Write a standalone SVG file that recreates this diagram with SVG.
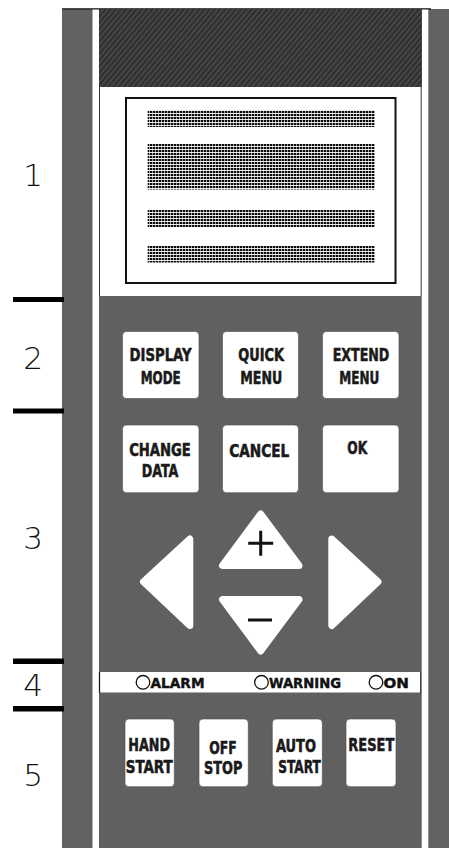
<svg xmlns="http://www.w3.org/2000/svg" width="449" height="848" viewBox="0 0 449 848">
<defs>
<pattern id="hatch" width="4" height="4" patternUnits="userSpaceOnUse" patternTransform="rotate(-50)">
<rect width="4" height="4" fill="#303030"/>
<rect width="4" height="1.3" fill="#505050"/>
</pattern>
<pattern id="dots" width="3" height="3" patternUnits="userSpaceOnUse">
<rect width="3" height="3" fill="#ffffff"/>
<rect x="0" y="0" width="2.4" height="2.1" fill="#0a0a0a"/>
</pattern>
<style>
.strip{fill:#626262}
.panel{fill:#606060}
.key{fill:#ffffff;stroke:#4a4a4a;stroke-width:0.6}
.kt{font-family:"DejaVu Sans Condensed","DejaVu Sans","Liberation Sans",sans-serif;font-weight:bold;font-size:18px;fill:#1a1a1a;stroke:#1a1a1a;stroke-width:0.55;text-anchor:middle}
.led{font-family:"DejaVu Sans Condensed","DejaVu Sans","Liberation Sans",sans-serif;font-weight:bold;font-size:14.5px;fill:#111;stroke:#111;stroke-width:0.4}
.num{font-family:"DejaVu Sans","Liberation Sans",sans-serif;font-weight:200;font-size:31px;fill:#111;text-anchor:middle}
.tick{fill:#000}
.arrow{fill:#ffffff;stroke:#ffffff;stroke-width:7;stroke-linejoin:round}
.sign{stroke:#111;stroke-width:3;fill:none}
.stripe{fill:url(#dots)}
</style>
</defs>
<rect width="449" height="848" fill="#ffffff"/>

<g id="housing">
<rect class="strip" x="62" y="9" width="30.5" height="839"/>
<rect class="strip" x="428.3" y="9" width="21" height="839"/>
<line x1="62" y1="8.8" x2="431" y2="8.8" stroke="#111" stroke-width="1.2"/>
<rect x="99" y="9" width="322.7" height="78" fill="url(#hatch)"/>
<rect x="99" y="87" width="322.7" height="209" fill="#ffffff"/>
<line x1="99.5" y1="87" x2="99.5" y2="296" stroke="#333" stroke-width="1"/>
<line x1="421.2" y1="9" x2="421.2" y2="296" stroke="#333" stroke-width="1"/>
<rect class="panel" x="99" y="296" width="322.7" height="552"/>
</g>

<g id="display">
<rect x="126" y="98" width="269.5" height="185" fill="#ffffff" stroke="#111" stroke-width="2"/>
<rect class="stripe" x="147.7" y="110" width="227.3" height="17"/>
<rect class="stripe" x="147.7" y="144" width="227.3" height="45.5"/>
<rect class="stripe" x="147.7" y="210" width="227.3" height="17"/>
<rect class="stripe" x="147.7" y="246" width="227.3" height="16.5"/>
</g>

<g id="section-labels">
<rect class="tick" x="13" y="297" width="51" height="5"/>
<rect class="tick" x="13" y="408.5" width="51" height="5"/>
<rect class="tick" x="13" y="658.5" width="51" height="5.5"/>
<rect class="tick" x="13" y="706" width="51" height="5.5"/>
<text class="num" x="33" y="186">1</text>
<text class="num" x="33" y="368.5">2</text>
<text class="num" x="33" y="549">3</text>
<text class="num" x="33" y="696">4</text>
<text class="num" x="33" y="786">5</text>
</g>

<g id="key-display-mode">
<rect class="key" x="122.5" y="331.5" width="76.5" height="67" rx="4"/>
<text class="kt" x="160.5" y="361" textLength="62" lengthAdjust="spacingAndGlyphs">DISPLAY</text>
<text class="kt" x="160.7" y="383.5" textLength="40" lengthAdjust="spacingAndGlyphs">MODE</text>
</g>
<g id="key-quick-menu">
<rect class="key" x="222.5" y="331.5" width="76" height="67" rx="4"/>
<text class="kt" x="261.2" y="361" textLength="45.7" lengthAdjust="spacingAndGlyphs">QUICK</text>
<text class="kt" x="261.2" y="383.5" textLength="42" lengthAdjust="spacingAndGlyphs">MENU</text>
</g>
<g id="key-extend-menu">
<rect class="key" x="322.5" y="331.5" width="76.5" height="67" rx="4"/>
<text class="kt" x="361" y="361" textLength="56.7" lengthAdjust="spacingAndGlyphs">EXTEND</text>
<text class="kt" x="359.3" y="383.5" textLength="40" lengthAdjust="spacingAndGlyphs">MENU</text>
</g>
<g id="key-change-data">
<rect class="key" x="122.5" y="425" width="76.5" height="67.7" rx="4"/>
<text class="kt" x="160" y="456" textLength="61.7" lengthAdjust="spacingAndGlyphs">CHANGE</text>
<text class="kt" x="160" y="477" textLength="36.7" lengthAdjust="spacingAndGlyphs">DATA</text>
</g>
<g id="key-cancel">
<rect class="key" x="222.5" y="425" width="76" height="67.7" rx="4"/>
<text class="kt" x="259.3" y="456.7" textLength="60" lengthAdjust="spacingAndGlyphs">CANCEL</text>
</g>
<g id="key-ok">
<rect class="key" x="322.5" y="425" width="76.5" height="67.7" rx="4"/>
<text class="kt" x="357.3" y="454.3" textLength="20" lengthAdjust="spacingAndGlyphs">OK</text>
</g>

<g id="key-up">
<polygon class="arrow" points="260.7,514 222.5,565.5 299,565.5"/>
<path class="sign" d="M248.2,543.3 H273.2 M260.7,530.8 V555.8"/>
</g>
<g id="key-down">
<polygon class="arrow" points="222.5,599.5 299,599.5 260.7,651"/>
<path class="sign" d="M248,620 H272" stroke-width="3.5"/>
</g>
<g id="key-left">
<polygon class="arrow" points="143.5,581.7 189.8,539 189.8,625.5"/>
</g>
<g id="key-right">
<polygon class="arrow" points="331.8,539 378,581.7 331.8,625.5"/>
</g>

<g id="led-strip">
<rect x="99" y="672" width="322.7" height="20.5" fill="#ffffff"/>
<line x1="99.5" y1="671.7" x2="99.5" y2="693" stroke="#111" stroke-width="1.2"/>
<line x1="420.8" y1="671.7" x2="420.8" y2="693" stroke="#111" stroke-width="1.2"/>
</g>
<g id="led-alarm">
<circle cx="143" cy="682.3" r="6.8" fill="none" stroke="#111" stroke-width="1.3"/>
<text class="led" x="150.5" y="688.3" textLength="54" lengthAdjust="spacingAndGlyphs">ALARM</text>
</g>
<g id="led-warning">
<circle cx="261.5" cy="682.3" r="6.8" fill="none" stroke="#111" stroke-width="1.3"/>
<text class="led" x="269" y="688.3" textLength="72" lengthAdjust="spacingAndGlyphs">WARNING</text>
</g>
<g id="led-on">
<circle cx="376" cy="682.3" r="6.8" fill="none" stroke="#111" stroke-width="1.3"/>
<text class="led" x="383.5" y="688.3" textLength="25.5" lengthAdjust="spacingAndGlyphs">ON</text>
</g>

<g id="key-hand-start">
<rect class="key" x="125" y="719" width="49.3" height="67.7" rx="4"/>
<text class="kt" x="149.2" y="751" textLength="41.7" lengthAdjust="spacingAndGlyphs">HAND</text>
<text class="kt" x="149.2" y="773.3" textLength="47" lengthAdjust="spacingAndGlyphs">START</text>
</g>
<g id="key-off-stop">
<rect class="key" x="199" y="719" width="49.3" height="67.7" rx="4"/>
<text class="kt" x="223" y="754" textLength="27.4" lengthAdjust="spacingAndGlyphs">OFF</text>
<text class="kt" x="223.2" y="773.5" textLength="38.3" lengthAdjust="spacingAndGlyphs">STOP</text>
</g>
<g id="key-auto-start">
<rect class="key" x="272.3" y="719" width="50" height="67.7" rx="4"/>
<text class="kt" x="296" y="751.7" textLength="40" lengthAdjust="spacingAndGlyphs">AUTO</text>
<text class="kt" x="299.5" y="772.7" textLength="42.4" lengthAdjust="spacingAndGlyphs">START</text>
</g>
<g id="key-reset">
<rect class="key" x="346" y="719" width="50" height="67.7" rx="4"/>
<text class="kt" x="371.3" y="751" textLength="46" lengthAdjust="spacingAndGlyphs">RESET</text>
</g>
</svg>
